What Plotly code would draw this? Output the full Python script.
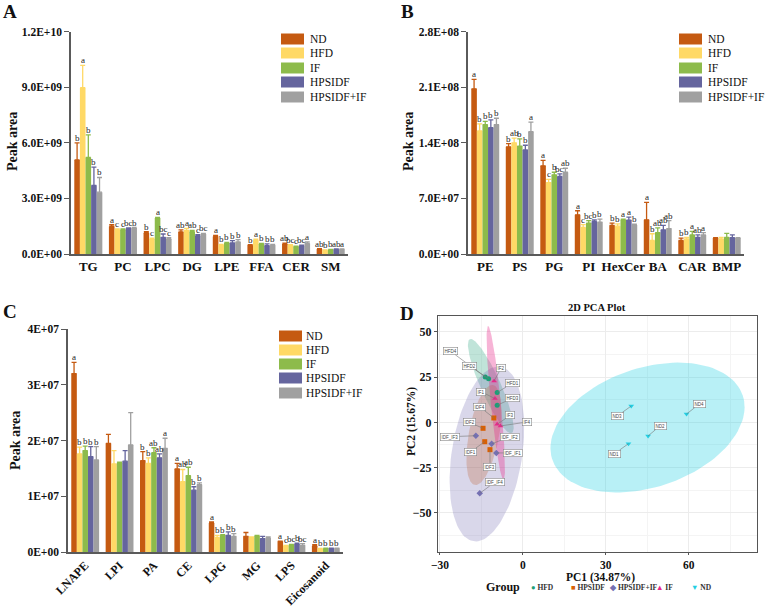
import numpy as np
import plotly.graph_objects as go

W, H = 767, 607
SERIF = "Liberation Serif"
SANS = "Liberation Sans"

groups = ["ND", "HFD", "IF", "HPSIDF", "HPSIDF+IF"]
bar_colors = ["#C55A11", "#FFD966", "#8DBB4B", "#65659E", "#A0A0A0"]

# ---------------- Panel A (values in units of 1e9) ----------------
unit_a = 1e9
cats_a = ["TG", "PC", "LPC", "DG", "LPE", "FFA", "CER", "SM"]
a_nd = [5.08, 1.49, 1.13, 1.19, 0.95, 0.47, 0.54, 0.27]
a_hfd = [8.98, 1.31, 0.81, 1.28, 0.50, 0.74, 0.47, 0.20]
a_if = [5.21, 1.31, 1.94, 1.20, 0.60, 0.54, 0.40, 0.23]
a_hpsidf = [3.70, 1.38, 0.90, 0.99, 0.60, 0.45, 0.45, 0.25]
a_hpsidf_if = [3.34, 1.40, 0.81, 1.08, 0.65, 0.47, 0.57, 0.25]
a_err_nd = [0.92, 0.09, 0.07, 0.11, 0.05, 0.03, 0.04, 0.02]
a_err_hfd = [1.20, 0.05, 0.04, 0.10, 0.02, 0.06, 0.03, 0.02]
a_err_if = [1.22, 0.04, 0.04, 0.08, 0.03, 0.03, 0.03, 0.02]
a_err_hpsidf = [0.99, 0.03, 0.18, 0.06, 0.12, 0.10, 0.03, 0.02]
a_err_hpsidf_if = [0.79, 0.03, 0.07, 0.03, 0.13, 0.05, 0.08, 0.02]
a_let_nd = ["b", "a", "b", "ab", "a", "b", "ab", "ab"]
a_let_hfd = ["a", "c", "c", "a", "b", "a", "bc", "b"]
a_let_if = ["b", "c", "a", "ab", "b", "b", "c", "b"]
a_let_hpsidf = ["b", "bc", "bc", "c", "b", "b", "bc", "ab"]
a_let_hpsidf_if = ["b", "b", "c", "bc", "b", "b", "a", "a"]
a_ticks = [0, 3, 6, 9, 12]
a_ticktext = ["0.0E+00", "3.0E+09", "6.0E+09", "9.0E+09", "1.2E+10"]

# ---------------- Panel B (values in units of 1e7) ----------------
unit_b = 1e7
cats_b = ["PE", "PS", "PG", "PI", "HexCer", "BA", "CAR", "BMP"]
b_nd = [20.8, 13.5, 11.1, 4.94, 3.6, 4.3, 1.7, 2.0]
b_hfd = [15.5, 14.0, 9.0, 3.35, 3.5, 1.7, 1.9, 1.9]
b_if = [16.3, 13.6, 9.97, 3.9, 4.3, 2.7, 2.4, 2.1]
b_hpsidf = [15.9, 13.1, 9.76, 4.1, 4.27, 3.05, 2.1, 2.05]
b_hpsidf_if = [16.3, 15.4, 10.3, 4.0, 3.65, 3.2, 2.4, 2.0]
b_err_nd = [1.2, 0.4, 0.7, 0.51, 0.3, 2.2, 0.3, 0.05]
b_err_hfd = [0.9, 0.6, 0.4, 0.35, 0.3, 0.85, 0.2, 0.2]
b_err_if = [0.4, 0.9, 0.33, 0.3, 0.1, 0.6, 0.45, 0.5]
b_err_hpsidf = [1.0, 0.6, 0.34, 0.2, 0.38, 0.55, 0.3, 0.35]
b_err_hpsidf_if = [0.8, 1.2, 0.5, 0.4, 0.12, 1.0, 0.3, 0.05]
b_let_nd = ["a", "b", "a", "a", "b", "a", "b", ""]
b_let_hfd = ["b", "ab", "c", "c", "b", "b", "b", ""]
b_let_if = ["b", "b", "b", "bc", "a", "ab", "a", ""]
b_let_hpsidf = ["b", "b", "bc", "b", "a", "ab", "ab", ""]
b_let_hpsidf_if = ["b", "a", "ab", "b", "b", "ab", "a", ""]
b_ticks = [0, 7, 14, 21, 28]
b_ticktext = ["0.0E+00", "7.0E+07", "1.4E+08", "2.1E+08", "2.8E+08"]

# ---------------- Panel C (values in units of 1e6) ----------------
unit_c = 1e6
cats_c = ["LNAPE", "LPI", "PA", "CE", "LPG", "MG", "LPS", "Eicosanoid"]
c_nd = [32.0, 19.5, 16.4, 14.9, 5.2, 2.8, 1.9, 1.08]
c_hfd = [17.6, 15.8, 15.9, 12.6, 2.6, 2.6, 1.1, 0.6]
c_if = [18.2, 16.0, 17.8, 13.7, 3.0, 2.9, 1.3, 0.66]
c_hpsidf = [17.1, 16.3, 16.9, 11.1, 3.0, 2.4, 1.45, 0.66]
c_hpsidf_if = [16.5, 19.2, 18.6, 12.1, 2.8, 2.5, 1.2, 0.66]
c_err_nd = [2.0, 1.6, 1.6, 1.0, 0.2, 0.7, 0.05, 0.22]
c_err_hfd = [1.2, 2.4, 1.0, 2.2, 0.4, 0.1, 0.1, 0.05]
c_err_if = [0.8, 0.1, 0.9, 1.5, 0.1, 0.1, 0.05, 0.05]
c_err_hpsidf = [1.8, 1.9, 0.7, 0.6, 0.6, 0.4, 0.15, 0.05]
c_err_hpsidf_if = [2.4, 5.8, 1.8, 0.3, 0.5, 0.2, 0.3, 0.05]
c_let_nd = ["a", "", "b", "a", "a", "", "a", "a"]
c_let_hfd = ["b", "", "b", "ab", "b", "", "c", "b"]
c_let_if = ["b", "", "ab", "ab", "b", "", "bc", "b"]
c_let_hpsidf = ["b", "", "ab", "b", "b", "", "b", "b"]
c_let_hpsidf_if = ["b", "", "a", "b", "b", "", "bc", "b"]
c_ticks = [0, 10, 20, 30, 40]
c_ticktext = ["0E+00", "1E+07", "2E+07", "3E+07", "4E+07"]

# ---------------- Panel D: PCA scores ----------------
pca_groups = ["HFD", "HPSIDF", "HPSIDF+IF", "IF", "ND"]
pca_colors = ["#1B9E77", "#D95F02", "#7570B3", "#E7298A", "#22CFE3"]
pca_symbols = ["circle", "square", "diamond", "triangle-up", "triangle-down"]
pca_glyphs = ["●", "■", "◆", "▲", "▼"]
hfd_pc1 = [-13.6, -12.4, -9.3, -9.3]
hfd_pc2 = [25.0, 24.1, 16.5, 9.4]
hfd_names = ["HFD4", "HFD2", "HFD1", "HFD3"]
hpsidf_pc1 = [-10.5, -14.4, -13.8, -11.9]
hpsidf_pc2 = [2.4, -3.3, -10.7, -15.1]
hpsidf_names = ["IDF4", "IDF2", "IDF1", "IDF3"]
hpsidf_if_pc1 = [-17.0, -11.3, -9.6, -15.6]
hpsidf_if_pc2 = [-7.4, -11.9, -16.9, -39.2]
hpsidf_if_names = ["IDF_IF3", "IDF_IF2", "IDF_IF1", "IDF_IF4"]
if_pc1 = [-10.4, -10.1, -9.3, -8.1]
if_pc2 = [22.8, 13.1, -1.1, -2.0]
if_names = ["IF2", "IF1", "IF3", "IF4"]
nd_pc1 = [39.2, 59.2, 45.3, 38.2]
nd_pc2 = [9.0, 4.6, -7.5, -11.8]
nd_names = ["ND3", "ND4", "ND2", "ND1"]
# confidence ellipses: centre, semi-axis vectors (PC1, PC2 units)
ell_center = [(-11.6, 20.0), (-14.1, -7.0), (-13.0, -17.5), (-9.8, 10.7), (45.1, -2.9)]
ell_u = [(-7.6, 25.9), (3.3, 27.6), (4.85, 48.2), (-2.8, 42.5), (34.4, 17.9)]
ell_v = [(3.3, 2.3), (5.4, -1.5), (12.6, -2.9), (1.8, 0.25), (-7.03, 31.1)]
ell_alpha = [0.28, 0.28, 0.28, 0.35, 0.32]


def px(x):
    return x / W


def py(y):
    return 1 - y / H


def rgba(hexc, a):
    hexc = hexc.lstrip("#")
    r, g, b = int(hexc[0:2], 16), int(hexc[2:4], 16), int(hexc[4:6], 16)
    return f"rgba({r},{g},{b},{a})"


fig = go.Figure()
BARGAP = 0.19
bw = (1 - BARGAP) / len(groups)
annotations = []
shapes = []


def add_bar_panel(cats, vals, errs, lets, unit, xa, ya):
    n = len(cats)
    for j, g in enumerate(groups):
        fig.add_trace(go.Bar(
            x=cats, y=[v * unit for v in vals[j]], name=g, showlegend=False,
            marker=dict(color=bar_colors[j], line=dict(width=0)),
            error_y=dict(type="data", symmetric=False,
                         array=[e * unit for e in errs[j]], arrayminus=[0] * n,
                         color=bar_colors[j], thickness=1.3, width=2.5),
            xaxis=xa, yaxis=ya))
        for i, lt in enumerate(lets[j]):
            if lt:
                annotations.append(dict(
                    x=i + (j - 2) * bw, y=(vals[j][i] + errs[j][i]) * unit,
                    xref=xa, yref=ya, text=lt, showarrow=False,
                    yanchor="bottom", yshift=-2,
                    font=dict(family=SERIF, size=9, color="#222")))


add_bar_panel(cats_a, [a_nd, a_hfd, a_if, a_hpsidf, a_hpsidf_if],
              [a_err_nd, a_err_hfd, a_err_if, a_err_hpsidf, a_err_hpsidf_if],
              [a_let_nd, a_let_hfd, a_let_if, a_let_hpsidf, a_let_hpsidf_if],
              unit_a, "x", "y")
add_bar_panel(cats_b, [b_nd, b_hfd, b_if, b_hpsidf, b_hpsidf_if],
              [b_err_nd, b_err_hfd, b_err_if, b_err_hpsidf, b_err_hpsidf_if],
              [b_let_nd, b_let_hfd, b_let_if, b_let_hpsidf, b_let_hpsidf_if],
              unit_b, "x2", "y2")
add_bar_panel(cats_c, [c_nd, c_hfd, c_if, c_hpsidf, c_hpsidf_if],
              [c_err_nd, c_err_hfd, c_err_if, c_err_hpsidf, c_err_hpsidf_if],
              [c_let_nd, c_let_hfd, c_let_if, c_let_hpsidf, c_let_hpsidf_if],
              unit_c, "x3", "y3")

# ---- PCA ----
t = np.linspace(0, 2 * np.pi, 120)
for k, g in enumerate(pca_groups):
    cx, cy = ell_center[k]
    ux, uy = ell_u[k]
    vx, vy = ell_v[k]
    ex = cx + ux * np.cos(t) + vx * np.sin(t)
    ey = cy + uy * np.cos(t) + vy * np.sin(t)
    fig.add_trace(go.Scatter(x=ex, y=ey, mode="lines", fill="toself",
                             fillcolor=rgba(pca_colors[k], ell_alpha[k]),
                             line=dict(width=0), showlegend=False,
                             hoverinfo="skip", xaxis="x4", yaxis="y4"))

pc1_all = [hfd_pc1, hpsidf_pc1, hpsidf_if_pc1, if_pc1, nd_pc1]
pc2_all = [hfd_pc2, hpsidf_pc2, hpsidf_if_pc2, if_pc2, nd_pc2]
names_all = [hfd_names, hpsidf_names, hpsidf_if_names, if_names, nd_names]
for k, g in enumerate(pca_groups):
    fig.add_trace(go.Scatter(x=pc1_all[k], y=pc2_all[k], mode="markers", name=g,
                             text=names_all[k], showlegend=False,
                             marker=dict(color=pca_colors[k], symbol=pca_symbols[k], size=5),
                             xaxis="x4", yaxis="y4"))

# label offsets (pixels) for the repelled sample labels
label_offsets = {
    "HFD4": (-35, -26), "HFD2": (-19, -13), "HFD1": (15, -9), "HFD3": (15, -7),
    "IF2": (7, -13), "IF1": (-14, -7), "IF3": (13, -9), "IF4": (27, -4),
    "IDF4": (-14, -11), "IDF2": (-14, -6), "IDF1": (-14, 10), "IDF3": (0, 17),
    "IDF_IF3": (-26, 1), "IDF_IF2": (18, -7), "IDF_IF1": (17, 0), "IDF_IF4": (15, -11),
    "ND3": (-14, 10), "ND4": (13, -10), "ND2": (12, -10), "ND1": (-14, 10),
}
for k in range(len(pca_groups)):
    for xv, yv, nm in zip(pc1_all[k], pc2_all[k], names_all[k]):
        axo, ayo = label_offsets[nm]
        annotations.append(dict(
            x=xv, y=yv, xref="x4", yref="y4", text=nm, showarrow=True,
            ax=axo, ay=ayo, arrowhead=0, arrowwidth=0.6, arrowcolor="#777",
            standoff=0, bgcolor="white", bordercolor="#888", borderwidth=0.6,
            borderpad=1, font=dict(family=SANS, size=4.5, color="#444")))

# ---- legends for bar panels (drawn) ----
def bar_legend(box_x0, text_x, rows_y):
    for j, g in enumerate(groups):
        yc = rows_y[j]
        shapes.append(dict(type="rect", xref="paper", yref="paper",
                           x0=px(box_x0), x1=px(box_x0 + 23),
                           y0=py(yc + 5.5), y1=py(yc - 5.5),
                           fillcolor=bar_colors[j], line=dict(width=0)))
        annotations.append(dict(x=px(text_x), y=py(yc), xref="paper", yref="paper",
                                text=g, showarrow=False, xanchor="left", yanchor="middle",
                                font=dict(family=SERIF, size=11.5, color="#111")))


bar_legend(281, 308, [39, 53, 68, 82, 97])
bar_legend(679, 706, [39, 53, 68, 82, 97])
bar_legend(279, 304, [336, 350, 364, 378, 393])

# ---- PCA legend (drawn) ----
annotations.append(dict(x=px(503), y=py(587), xref="paper", yref="paper", text="Group",
                        showarrow=False, xanchor="center", yanchor="middle",
                        font=dict(family=SERIF, size=12, weight="bold", color="#111")))
leg_x = [529, 569, 607, 654, 689]
for k, g in enumerate(pca_groups):
    annotations.append(dict(
        x=px(leg_x[k]), y=py(587), xref="paper", yref="paper",
        text=f"<span style='color:{pca_colors[k]}'>{pca_glyphs[k]}</span> {g}",
        showarrow=False, xanchor="left", yanchor="middle",
        font=dict(family=SERIF, size=7.5, weight="bold", color="#333")))

# ---- titles / panel letters ----
def text_ann(x, y, txt, size, bold=True, angle=0):
    annotations.append(dict(x=px(x), y=py(y), xref="paper", yref="paper", text=txt,
                            showarrow=False, xanchor="center", yanchor="middle",
                            textangle=angle,
                            font=dict(family=SERIF, size=size,
                                      weight="bold" if bold else "normal", color="#111")))


text_ann(10, 12, "A", 19)
text_ann(407, 11, "B", 19)
text_ann(10, 311, "C", 19)
text_ann(407, 313, "D", 19)
text_ann(12, 142, "Peak area", 14, angle=-90)
text_ann(408, 142, "Peak area", 14, angle=-90)
text_ann(15, 441, "Peak area", 14, angle=-90)
text_ann(597, 307, "2D PCA Plot", 10.5)
text_ann(600, 577, "PC1 (34.87%)", 11.5)
text_ann(411, 422, "PC2 (15.67%)", 11.5, angle=-90)

AXC = "#5a5a5a"
tick_font = dict(family=SERIF, size=11.5, weight="bold", color="#111")
cat_font = dict(family=SERIF, size=13, weight="bold", color="#111")
cat_font_c = dict(family=SERIF, size=12, weight="bold", color="#111")


def bar_xaxis(dom, anchor, angle=0, font=cat_font):
    return dict(domain=dom, anchor=anchor, type="category", range=[-0.5, 7.5],
                showline=True, linecolor=AXC, linewidth=1.5, ticks="",
                showgrid=False, zeroline=False, tickfont=font, tickangle=angle,
                automargin=False, fixedrange=True)


def bar_yaxis(dom, anchor, rng, tv, tt):
    return dict(domain=dom, anchor=anchor, range=rng, tickvals=tv, ticktext=tt,
                showline=True, linecolor=AXC, linewidth=1.5, ticks="outside",
                ticklen=5, tickcolor=AXC, tickwidth=1.3, showgrid=False,
                zeroline=False, tickfont=tick_font, automargin=False)


fig.update_layout(
    width=W, height=H, margin=dict(l=0, r=0, t=0, b=0, autoexpand=False),
    paper_bgcolor="white", plot_bgcolor="white",
    barmode="group", bargap=BARGAP, bargroupgap=0,
    showlegend=False,
    xaxis=bar_xaxis([px(71), px(348)], "y"),
    yaxis=bar_yaxis([py(254), py(31.7)], "x", [0, 12 * unit_a],
                    [v * unit_a for v in a_ticks], a_ticktext),
    xaxis2=bar_xaxis([px(468), px(744)], "y2"),
    yaxis2=bar_yaxis([py(254), py(31.7)], "x2", [0, 28 * unit_b],
                     [v * unit_b for v in b_ticks], b_ticktext),
    xaxis3=bar_xaxis([px(68), px(343)], "y3", angle=-45, font=cat_font_c),
    yaxis3=bar_yaxis([py(552), py(329)], "x3", [0, 40 * unit_c],
                     [v * unit_c for v in c_ticks], c_ticktext),
    xaxis4=dict(domain=[px(438), px(757)], anchor="y4", range=[-30.7, 84.7],
                tickvals=[-30, 0, 30, 60], showline=True, mirror=True,
                linecolor="#555", linewidth=1, ticks="outside", ticklen=2,
                tickcolor="#555", showgrid=True, gridcolor="#ececec", gridwidth=0.8,
                minor=dict(tickvals=[-15, 15, 45, 75], showgrid=True,
                           gridcolor="#f4f4f4", gridwidth=0.6),
                zeroline=False, automargin=False,
                tickfont=dict(family=SERIF, size=11.5, weight="bold", color="#111")),
    yaxis4=dict(domain=[py(552), py(316)], anchor="x4", range=[-71.6, 58.7],
                tickvals=[-50, -25, 0, 25, 50], showline=True, mirror=True,
                linecolor="#555", linewidth=1, ticks="outside", ticklen=3,
                tickcolor="#555", showgrid=True, gridcolor="#ececec", gridwidth=0.8,
                minor=dict(tickvals=[-62.5, -37.5, -12.5, 12.5, 37.5], showgrid=True,
                           gridcolor="#f4f4f4", gridwidth=0.6),
                zeroline=False, automargin=False,
                tickfont=dict(family=SERIF, size=12, weight="bold", color="#111")),
    annotations=annotations, shapes=shapes,
)

fig.write_html("out.html")
